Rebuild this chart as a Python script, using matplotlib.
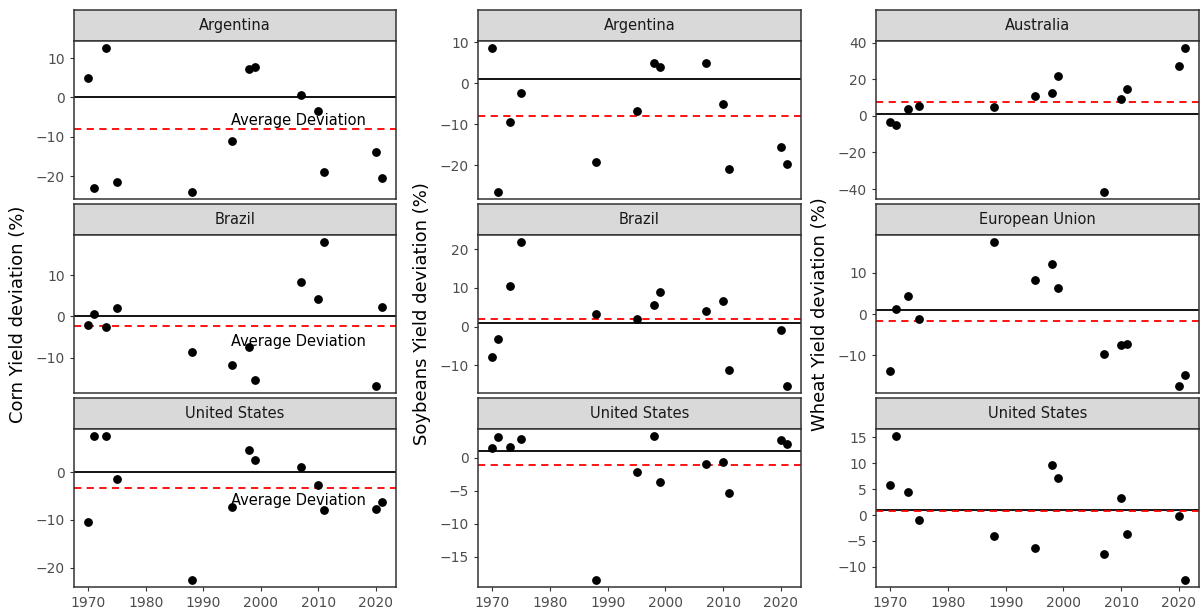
import numpy as np
import matplotlib.pyplot as plt

years = [1970, 1971, 1973, 1975, 1988, 1995, 1998, 1999, 2007, 2010, 2011, 2020, 2021]

corn_argentina = [5, -23, 12.5, -21.5, -24, -11, 7.2, 7.8, 0.5, -3.5, -19, -14, -20.5]
corn_brazil = [-2, 0.5, -2.5, 2, -8.5, -11.8, -7.5, -15.3, 8.3, 4.3, 18, -16.8, 2.2]
corn_us = [-10.5, 7.5, 7.5, -1.5, -22.5, -7.2, 4.7, 2.5, 1, -2.8, -8, -7.8, -6.2]

soy_argentina = [8.5, -26.5, -9.5, -2.3, -19.2, -6.8, 4.8, 4, 5, -5.2, -21, -15.7, -19.8]
soy_brazil = [-7.8, -3.3, 10.5, 21.8, 3.3, 2, 5.7, 9, 4.1, 6.7, -11.2, -0.8, -15.3]
soy_us = [1.5, 3.2, 1.7, 2.9, -18.5, -2.2, 3.3, -3.6, -0.9, -0.6, -5.3, 2.7, 2.1]

wheat_australia = [-3.5, -5, 3.5, 5.5, 5, 11, 12.5, 22, -41.5, 9.5, 14.5, 27, 37]
wheat_eu = [-13.8, 1.2, 4.5, -1.2, 17.5, 8.2, 12.3, 6.3, -9.8, -7.5, -7.4, -17.5, -14.8]
wheat_us = [5.8, 15.2, 4.5, -1, -4, -6.3, 9.7, 7.2, -7.5, 3.2, -3.6, -0.1, -12.5]

columns = [
    ("Corn Yield deviation (%)", 0, True,
     [("Argentina", corn_argentina), ("Brazil", corn_brazil), ("United States", corn_us)]),
    ("Soybeans Yield deviation (%)", 1, False,
     [("Argentina", soy_argentina), ("Brazil", soy_brazil), ("United States", soy_us)]),
    ("Wheat Yield deviation (%)", 1, False,
     [("Australia", wheat_australia), ("European Union", wheat_eu), ("United States", wheat_us)]),
]

yticks = [
    [[-20, -10, 0, 10], [-10, 0, 10], [-20, -10, 0]],
    [[-20, -10, 0, 10], [-10, 0, 10, 20], [-15, -10, -5, 0]],
    [[-40, -20, 0, 20, 40], [-10, 0, 10], [-10, -5, 0, 5, 10, 15]],
]

W, H = 1201, 610
fig = plt.figure(figsize=(W / 100, H / 100), dpi=100)
col_x = [(74, 396), (478, 801), (876, 1199)]
row_top = [10, 204, 398]
strip_h, panel_h = 31, 158
grey = "#333333"

for c, (ylab, ref, show_text, panels) in enumerate(columns):
    x0, x1 = col_x[c]
    for r, (name, vals) in enumerate(panels):
        t = row_top[r]
        sax = fig.add_axes([x0 / W, 1 - (t + strip_h) / H, (x1 - x0) / W, strip_h / H])
        sax.set_facecolor("#d9d9d9")
        sax.set_xticks([]); sax.set_yticks([])
        for s in sax.spines.values():
            s.set_color(grey); s.set_linewidth(1.1)
        sax.text(0.5, 0.5, name, ha="center", va="center", fontsize=10.5, color="#1a1a1a",
                 transform=sax.transAxes)

        ax = fig.add_axes([x0 / W, 1 - (t + strip_h + panel_h) / H, (x1 - x0) / W, panel_h / H])
        ax.scatter(years, vals, color="black", s=28, zorder=3)
        avg = np.mean(vals)
        ax.axhline(ref, color="black", lw=1.3)
        ax.axhline(avg, color="red", lw=1.3, ls=(0, (4, 3)))
        if show_text:
            ax.text(2006.5, -6, "Average Deviation", fontsize=10.5, ha="center", va="center")
        ax.set_xlim(1967.5, 2023.5)
        lo, hi = min(vals), max(vals)
        pad = (hi - lo) * 0.05
        ax.set_ylim(lo - pad, hi + pad)
        ax.set_yticks(yticks[c][r])
        ax.set_xticks([1970, 1980, 1990, 2000, 2010, 2020])
        ax.tick_params(colors=grey, labelcolor="#4d4d4d", labelsize=10, length=3)
        if r < 2:
            ax.tick_params(axis="x", labelbottom=False, length=0)
        for s in ax.spines.values():
            s.set_color(grey); s.set_linewidth(1.1)
        ax.set_yticklabels([str(v).replace("-", "\u2212") for v in yticks[c][r]])
        if r == 1:
            ax.set_ylabel(ylab, fontsize=13)
            ax.yaxis.set_label_coords(-47 / (x1 - x0), 0.5)

fig.savefig("out.png", dpi=100)
